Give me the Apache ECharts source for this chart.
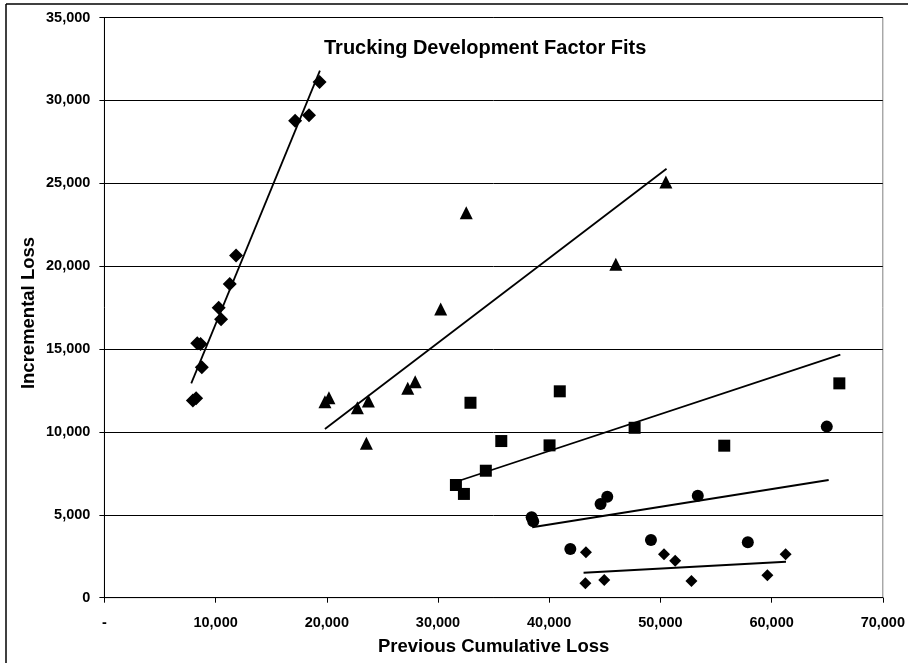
<!DOCTYPE html>
<html>
<head>
<meta charset="utf-8">
<script src="https://cdn.jsdelivr.net/npm/echarts@6/dist/echarts.min.js"></script>
<style>
html,body{margin:0;padding:0;background:#fff;}
#chart{width:908px;height:663px;}
</style>
</head>
<body>
<div id="chart"></div>
<script>
// ---- data ----
const titleText = 'Trucking Development Factor Fits';
const xAxisTitle = 'Previous Cumulative Loss';
const yAxisTitle = 'Incremental Loss';

const devA = [[7955,11900],[8250,12030],[8350,15350],[8650,15300],[8760,13900],[10280,17490],[10490,16800],[11270,18920],[11840,20650],[17150,28770],[18400,29100],[19350,31110]];
const devB = [[19830,11820],[20190,12060],[22750,11460],[23560,9310],[23740,11860],[27280,12630],[27950,13030],[30240,17410],[32540,23220],[45990,20120],[50490,25080]];
const devC = [[31610,6800],[32330,6260],[32920,11760],[34300,7660],[35690,9450],[40030,9190],[40950,12450],[47680,10250],[55740,9170],[66090,12930]];
const devD = [[38420,4850],[38560,4610],[41900,2940],[44620,5650],[45220,6090],[49150,3480],[53360,6150],[57860,3340],[64960,10320]];
const devE = [[43300,2740],[43250,870],[44950,1070],[50320,2620],[51330,2230],[52790,1010],[59620,1350],[61260,2620]];

const fitA = [[7810,12930],[19380,31790]];
const fitB = [[19830,10180],[50550,25880]];
const fitC = [[31830,7040],[66180,14660]];
const fitD = [[38470,4250],[65130,7100]];
const fitE = [[43090,1510],[61290,2170]];

const xTicks = {min:0, max:70000, interval:10000};
const yTicks = {min:0, max:35000, interval:5000};

function fmt(v){ return v.toLocaleString('en-US'); }

const chart = echarts.init(document.getElementById('chart'));
const FONT = 'Liberation Sans, Arial, sans-serif';

function scatter(data, symbol, size){
  return {type:'scatter', data:data, symbol:symbol, symbolSize:size,
    itemStyle:{color:'#000', opacity:1}, z:3, silent:true};
}
function fit(data, w){
  return {type:'line', data:data, showSymbol:false, symbol:'none',
    lineStyle:{color:'#000', width:w}, z:2, silent:true, animation:false};
}

chart.setOption({
  animation:false,
  backgroundColor:'#fff',
  title:{text:titleText, left:319, top:33,
    textStyle:{fontFamily:FONT, fontWeight:'bold', fontSize:20, color:'#000'}},
  grid:{left:104.4, right:21.3, top:17.5, bottom:65.3, show:true,
    borderColor:'#808080', borderWidth:1, backgroundColor:'transparent'},
  xAxis:{type:'value', min:xTicks.min, max:xTicks.max, interval:xTicks.interval,
    name:xAxisTitle, nameLocation:'middle', nameGap:40,
    nameTextStyle:{fontFamily:FONT, fontWeight:'bold', fontSize:18.5, color:'#000'},
    axisLine:{show:true, lineStyle:{color:'#000', width:1}},
    axisTick:{show:true, length:5, lineStyle:{color:'#000'}},
    splitLine:{show:false},
    axisLabel:{margin:18, fontFamily:FONT, fontWeight:'bold', fontSize:14.5, color:'#000',
      formatter:function(v){ return v===0 ? '-' : fmt(v); }}},
  yAxis:{type:'value', min:yTicks.min, max:yTicks.max, interval:yTicks.interval,
    axisLine:{show:true, lineStyle:{color:'#000', width:1}},
    axisTick:{show:true, length:5, lineStyle:{color:'#000'}},
    splitLine:{show:true, lineStyle:{color:'#000', width:1}},
    axisLabel:{margin:14, fontFamily:FONT, fontWeight:'bold', fontSize:14.5, color:'#000',
      formatter:function(v){ return fmt(v); }}},
  graphic:[
    {type:'line', shape:{x1:6, y1:4, x2:6, y2:663}, style:{stroke:'#000', lineWidth:1.5}},
    {type:'line', shape:{x1:6, y1:4, x2:908, y2:4}, style:{stroke:'#000', lineWidth:1.5}},
    {type:'text', x:28.5, y:313, rotation:Math.PI/2,
      style:{text:yAxisTitle, fontFamily:FONT, fontWeight:'bold', fontSize:18.5, fill:'#000',
        textAlign:'center', textVerticalAlign:'middle'}}
  ],
  series:[
    fit(fitA,1.8), fit(fitB,1.8), fit(fitC,1.8), fit(fitD,2), fit(fitE,2),
    scatter(devA,'diamond',14),
    scatter(devB,'triangle',13),
    scatter(devC,'rect',12),
    scatter(devD,'circle',12),
    scatter(devE,'diamond',12)
  ]
});
</script>
</body>
</html>
